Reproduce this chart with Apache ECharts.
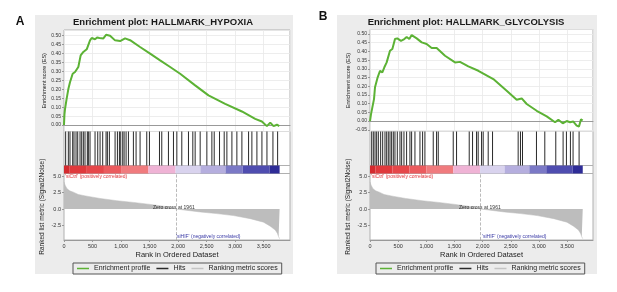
<!DOCTYPE html>
<html>
<head>
<meta charset="utf-8">
<script src="https://cdn.jsdelivr.net/npm/echarts@6/dist/echarts.min.js"></script>
<style>
  html, body { margin: 0; padding: 0; background: #fff; }
  #chart { width: 617px; height: 292px; }
</style>
</head>
<body>
<div id="chart"></div>
<script>
// ranks of the gene-set members in the ordered list
const hitsA = [29, 76, 105, 152, 175, 211, 240, 281, 310, 339, 368, 409, 427, 456, 544, 591, 632, 678, 737, 760, 795, 895, 936, 971, 994, 1029, 1053, 1088, 1129, 1216, 1263, 1333, 1450, 1497, 1673, 1713, 1830, 1918, 1977, 2064, 2181, 2257, 2298, 2386, 2503, 2591, 2632, 2725, 2807, 2854, 2942, 3029, 3117, 3234, 3292, 3380, 3468, 3556, 3661, 3743];
const hitsB = [30, 59, 89, 118, 148, 189, 225, 266, 296, 325, 355, 384, 414, 443, 485, 532, 562, 603, 650, 709, 739, 798, 887, 934, 975, 1123, 1182, 1212, 1478, 1537, 1762, 1821, 1892, 1921, 1981, 2010, 2099, 2176, 2631, 2672, 2708, 2956, 3104, 3299, 3429, 3488, 3559, 3606, 3713];

// running enrichment score [rank, ES]
const esA = [[0, 0], [8, 0.06], [18, 0.09], [46, 0.147], [75, 0.2], [105, 0.24], [152, 0.287], [193, 0.297], [251, 0.325], [292, 0.39], [339, 0.409], [398, 0.424], [456, 0.474], [485, 0.487], [544, 0.48], [580, 0.49], [620, 0.487], [690, 0.485], [737, 0.505], [807, 0.5], [895, 0.474], [983, 0.47], [1070, 0.485], [1158, 0.475], [1333, 0.437], [1509, 0.4], [1684, 0.362], [1860, 0.325], [2035, 0.287], [2298, 0.222], [2532, 0.166], [2824, 0.119], [3117, 0.076], [3350, 0.035], [3467, 0.02], [3555, -0.006], [3614, 0.014], [3672, -0.006], [3731, 0.002], [3772, -0.006]];
const esB = [[0, 0], [18, 0.04], [41, 0.035], [71, 0.126], [89, 0.194], [136, 0.251], [178, 0.289], [219, 0.28], [255, 0.309], [296, 0.337], [355, 0.404], [397, 0.414], [444, 0.471], [485, 0.475], [550, 0.461], [609, 0.471], [651, 0.483], [698, 0.471], [740, 0.494], [829, 0.475], [918, 0.452], [1006, 0.443], [1095, 0.42], [1184, 0.42], [1332, 0.375], [1510, 0.337], [1598, 0.34], [1746, 0.314], [1924, 0.289], [2190, 0.241], [2427, 0.174], [2605, 0.122], [2694, 0.13], [2783, 0.098], [2960, 0.059], [3138, 0.027], [3286, -0.007], [3345, 0.007], [3422, -0.013], [3493, 0], [3552, -0.007], [3611, -0.003], [3670, -0.026], [3711, -0.031], [3747, 0.01], [3776, 0.003]];

// ranked list metric (Signal2Noise), same list for both panels
const metricScores = [[0, 4.1], [20, 3.6], [50, 3.1], [100, 2.75], [164, 2.55], [250, 2.2], [398, 1.95], [632, 1.6], [924, 1.26], [1216, 1.0], [1509, 0.7], [1801, 0.35], [1961, 0], [2386, -0.45], [2678, -0.7], [2971, -1.0], [3263, -1.46], [3497, -2.0], [3614, -2.6], [3702, -3.2], [3740, -3.7], [3760, -4.2], [3778, -4.5]];
const zeroCross = 1961;

// heat bar under the hits
const bandEdges = [0, 100, 400, 700, 1000, 1480, 1955, 2390, 2830, 3130, 3600, 3778];
const bandColors = ['#d42a2e', '#e0393c', '#e6474a', '#eb5b5e', '#f07b7e', '#efb3d5', '#d9d3ee', '#b5aede', '#7b79c6', '#4f4db0', '#2e2c97'];

const titles = ['Enrichment plot: HALLMARK_HYPOXIA', 'Enrichment plot: HALLMARK_GLYCOLYSIS'];
const letters = ['A', 'B'];
const legendNames = ['Enrichment profile', 'Hits', 'Ranking metric scores'];

const X_MAX = 3960;
const FONT = 'Liberation Sans';

function fmtThousands(v) {
  return String(v).replace(/\B(?=(\d{3})+(?!\d))/g, ',');
}

const panels = [
  { left: 64, width: 226, esTop: 30, esMin: -0.036, esMax: 0.532, es: esA, hits: hitsA, box: [35, 15, 258, 259], legendLeft: 73 },
  { left: 370, width: 223, esTop: 29.5, esMin: -0.06, esMax: 0.526, es: esB, hits: hitsB, box: [337, 15, 260, 259], legendLeft: 376 }
];

const grid = [], xAxis = [], yAxis = [], series = [], graphic = [], legend = [];

panels.forEach(function (p, i) {
  const g = i * 4;
  const tops = [p.esTop, 131.5, 165.5, 173.5];
  const heights = [131.5 - p.esTop, 34, 8, 66.5];
  for (let k = 0; k < 4; k++) {
    grid.push({
      left: p.left, width: p.width, top: tops[k], height: heights[k],
      show: true, backgroundColor: '#fff', borderColor: '#b0b0b0', borderWidth: 1
    });
    xAxis.push({
      gridIndex: g + k, type: 'value', min: 0, max: X_MAX, interval: 500,
      axisLine: { show: k === 0 || k === 3, onZero: k === 0, lineStyle: { color: '#999' } },
      axisTick: { show: k === 3, length: 2, lineStyle: { color: '#999' } },
      axisLabel: {
        show: k === 3, fontSize: 5.5, color: '#333', margin: 3, fontFamily: FONT,
        formatter: fmtThousands, showMaxLabel: false
      },
      splitLine: { show: k === 0, lineStyle: { color: '#e8e8e8', width: 0.8 } },
      name: k === 3 ? 'Rank in Ordered Dataset' : '',
      nameLocation: 'middle', nameGap: 11,
      nameTextStyle: { fontSize: 7.5, color: '#222', fontFamily: FONT }
    });
  }
  // ES axis
  yAxis.push({
    gridIndex: g, type: 'value', min: p.esMin, max: p.esMax,
    minInterval: 0.05, maxInterval: 0.05, splitNumber: 11,
    axisLine: { show: false }, axisTick: { show: true, length: 2, lineStyle: { color: '#999' } },
    axisLabel: {
      fontSize: 5, color: '#333', margin: 3, fontFamily: FONT,
      formatter: function (v) { return v.toFixed(2); },
      showMinLabel: false, showMaxLabel: false
    },
    splitLine: { lineStyle: { color: '#e8e8e8', width: 0.8 } },
    name: 'Enrichment score (ES)', nameLocation: 'middle', nameGap: 14,
    nameTextStyle: { fontSize: 5.5, color: '#222', fontFamily: FONT }
  });
  // hits and heat bar axes
  yAxis.push({ gridIndex: g + 1, type: 'value', min: 0, max: 1, show: false });
  yAxis.push({ gridIndex: g + 2, type: 'value', min: 0, max: 1, show: false });
  // metric axis
  yAxis.push({
    gridIndex: g + 3, type: 'value', min: -4.7, max: 5.38,
    minInterval: 2.5, maxInterval: 2.5, splitNumber: 4,
    axisLine: { show: false }, axisTick: { show: true, length: 2, lineStyle: { color: '#999' } },
    axisLabel: {
      fontSize: 5.5, color: '#333', margin: 3, fontFamily: FONT,
      formatter: function (v) { return v.toFixed(1); },
      showMinLabel: false, showMaxLabel: false
    },
    splitLine: { show: false },
    name: 'Ranked list metric (Signal2Noise)', nameLocation: 'middle', nameGap: 18,
    nameTextStyle: { fontSize: 6.5, color: '#222', fontFamily: FONT }
  });

  series.push({
    name: 'Enrichment profile', type: 'line', xAxisIndex: g, yAxisIndex: g,
    data: p.es, showSymbol: false, symbol: 'none',
    lineStyle: { color: '#5cb235', width: 2 }, itemStyle: { color: '#5cb235' }, z: 5
  });
  series.push({
    name: 'Hits', type: 'bar', xAxisIndex: g + 1, yAxisIndex: g + 1,
    data: p.hits.map(function (r) { return [r, 1]; }),
    barWidth: 1, itemStyle: { color: '#2a2a2a' }
  });
  series.push({
    name: 'heat', type: 'custom', xAxisIndex: g + 2, yAxisIndex: g + 2,
    data: bandEdges.slice(0, -1).map(function (s, j) { return [s, bandEdges[j + 1]]; }),
    encode: { x: [0, 1] },
    renderItem: function (params, api) {
      const a = api.coord([api.value(0), 1]);
      const b = api.coord([api.value(1), 0]);
      return {
        type: 'rect',
        shape: { x: a[0], y: a[1], width: b[0] - a[0], height: b[1] - a[1] },
        style: { fill: bandColors[params.dataIndex] }
      };
    }
  });
  series.push({
    name: 'Ranking metric scores', type: 'line', xAxisIndex: g + 3, yAxisIndex: g + 3,
    data: metricScores, showSymbol: false, symbol: 'none',
    lineStyle: { color: '#bdbdbd', width: 0.5 }, itemStyle: { color: '#c4c4c4' },
    areaStyle: { color: '#bdbdbd', opacity: 1 },
    markLine: {
      silent: true, symbol: 'none', label: { show: false },
      lineStyle: { color: '#aaa', type: 'dashed', width: 0.8 },
      data: [{ xAxis: zeroCross }]
    }
  });

  legend.push({
    data: legendNames, left: p.legendLeft, top: 263,
    orient: 'horizontal', icon: 'rect', itemWidth: 12, itemHeight: 1.5, itemGap: 6,
    padding: [2, 4], borderColor: '#555', borderWidth: 1,
    textStyle: { fontSize: 7, color: '#222', fontFamily: FONT }
  });

  const bx = p.box;
  graphic.push({ type: 'rect', z: -10, shape: { x: bx[0], y: bx[1], width: bx[2], height: bx[3] }, style: { fill: '#ececec' } });
  graphic.push({
    type: 'text', x: bx[0] + bx[2] / 2 - 1, y: 22, z: 10,
    style: { text: titles[i], font: 'bold 9.5px ' + FONT, fill: '#1a1a1a', textAlign: 'center', textVerticalAlign: 'middle' }
  });
  graphic.push({
    type: 'text', x: i === 0 ? 20 : 323, y: i === 0 ? 22 : 17, z: 10,
    style: { text: letters[i], font: 'bold 12px ' + FONT, fill: '#111', textAlign: 'center', textVerticalAlign: 'middle' }
  });
  graphic.push({
    type: 'text', x: p.left + 1, y: 177, z: 10,
    style: { text: "'siCtrl' (positively correlated)", font: '5px ' + FONT, fill: '#e0353a', textVerticalAlign: 'middle' }
  });
  graphic.push({
    type: 'text', x: p.left + 112, y: 237, z: 10,
    style: { text: "'siHIF' (negatively correlated)", font: '5px ' + FONT, fill: '#3b3ba6', textVerticalAlign: 'middle' }
  });
  graphic.push({
    type: 'text', x: p.left + 89, y: 208, z: 10,
    style: { text: 'Zero cross at ' + zeroCross, font: '5px ' + FONT, fill: '#333', textVerticalAlign: 'middle' }
  });
});

const chart = echarts.init(document.getElementById('chart'));
chart.setOption({
  animation: false,
  backgroundColor: '#fff',
  legend: legend,
  grid: grid,
  xAxis: xAxis,
  yAxis: yAxis,
  series: series,
  graphic: graphic
});
</script>
</body>
</html>
